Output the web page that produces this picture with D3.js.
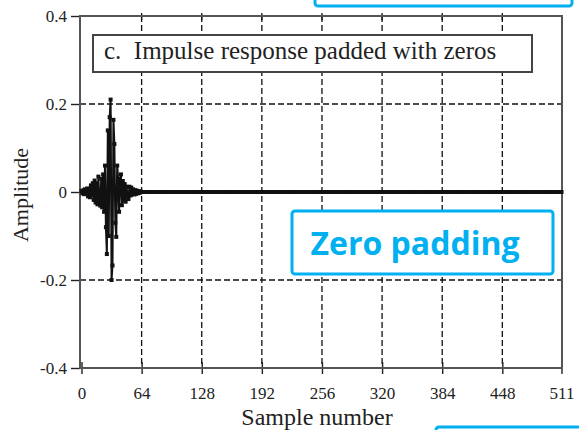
<!DOCTYPE html>
<html>
<head>
<meta charset="utf-8">
<script src="https://cdn.jsdelivr.net/npm/d3@7/dist/d3.min.js"></script>
<style>
  html, body { margin: 0; padding: 0; background: #fff; }
  svg { display: block; }
</style>
</head>
<body>
<svg id="chart" width="579" height="430"></svg>
<script>
// Windowed filter kernel (first 64 samples), followed by zero padding to 512 points
const kernel = [
  0.002, -0.003, 0.004, -0.005, 0.006, -0.004, 0.008, -0.010,
  0.007, -0.012, 0.015, -0.008, 0.020, -0.018, 0.026, -0.024,
  0.020, -0.028, 0.035, -0.022, -0.031, 0.030, -0.035, 0.040,
  -0.045, 0.060, -0.080, -0.141, 0.140, -0.100, 0.170, 0.210,
  -0.200, -0.167, 0.164, 0.109, -0.070, -0.102, 0.060, 0.030,
  -0.045, 0.020, 0.040, -0.030, 0.025, -0.020, 0.018, -0.022,
  0.012, -0.010, -0.016, 0.012, -0.008, 0.010, -0.006, 0.006,
  -0.005, 0.004, -0.004, 0.003, -0.003, 0.002, -0.002, 0.001
];
const totalLength = 512;
const padding = new Array(totalLength - kernel.length).fill(0);
const samples = kernel.concat(padding);

const xTicks = [0, 64, 128, 192, 256, 320, 384, 448, 511];
const yTicks = [-0.4, -0.2, 0, 0.2, 0.4];
const yTickLabels = ["-0.4", "-0.2", "0", "0.2", "0.4"];
const xGrid = [64, 128, 192, 256, 320, 384, 448];
const yGrid = [-0.2, 0, 0.2];

const titleText = "c.  Impulse response padded with zeros";
const xLabel = "Sample number";
const yLabel = "Amplitude";
const noteText = "Zero padding";

(function draw() {
  const svg = d3.select("#chart");
  const pl = 80, pr = 562, pt = 16, pb = 368;
  const x = d3.scaleLinear().domain([0, 511]).range([81.5, 561.5]);
  const y = d3.scaleLinear().domain([-0.4, 0.4]).range([pb, pt]);

  const serif = "'Liberation Serif', 'DejaVu Serif', serif";
  const cyan = "#00b0f0";
  const ink = "#222";

  // dashed grid
  const grid = svg.append("g").attr("stroke", "#111").attr("stroke-width", 1.3)
    .attr("stroke-dasharray", "6,3");
  grid.selectAll("line.v").data(xGrid).join("line").attr("class", "v")
    .attr("x1", d => x(d)).attr("x2", d => x(d))
    .attr("y1", pt).attr("y2", pb);
  grid.selectAll("line.h").data(yGrid).join("line").attr("class", "h")
    .attr("x1", pl).attr("x2", pr)
    .attr("y1", d => y(d)).attr("y2", d => y(d));

  // small ticks along the top border
  svg.append("g").selectAll("line").data(xGrid).join("line")
    .attr("x1", d => x(d)).attr("x2", d => x(d))
    .attr("y1", pt - 3).attr("y2", pt + 4)
    .attr("stroke", "#111").attr("stroke-width", 1.3);

  // title box
  const tb = svg.append("g");
  tb.append("rect").attr("x", 93).attr("y", 35).attr("width", 439).attr("height", 37)
    .attr("fill", "#fff").attr("stroke", "#444").attr("stroke-width", 2);
  tb.append("text").attr("x", 104).attr("y", 59)
    .attr("font-family", serif).attr("font-size", 25).attr("fill", ink)
    .style("white-space", "pre").text(titleText);

  // bottom axis
  const xAxis = svg.append("g").attr("transform", `translate(0,${pb})`)
    .call(d3.axisBottom(x).tickValues(xTicks).tickSize(6).tickSizeOuter(0));
  xAxis.select(".domain").remove();
  xAxis.selectAll(".tick line").attr("y1", -6).attr("y2", 6)
    .attr("stroke", ink).attr("stroke-width", 1.4);
  xAxis.selectAll(".tick text").attr("y", 19)
    .attr("font-family", serif).attr("font-size", 17).attr("fill", ink);

  // left axis
  const yAxis = svg.append("g").attr("transform", `translate(${pl},0)`)
    .call(d3.axisLeft(y).tickValues(yTicks).tickSize(9).tickSizeOuter(0)
      .tickFormat((d, i) => yTickLabels[i]));
  yAxis.select(".domain").remove();
  yAxis.selectAll(".tick line").attr("stroke", ink).attr("stroke-width", 1.4);
  yAxis.selectAll(".tick text").attr("x", -13)
    .attr("font-family", serif).attr("font-size", 17).attr("fill", ink);

  // frame
  svg.append("rect").attr("x", pl).attr("y", pt)
    .attr("width", pr - pl).attr("height", pb - pt)
    .attr("fill", "none").attr("stroke", "#555").attr("stroke-width", 2);

  // signal: connected samples with square markers
  const line = d3.line().x((d, i) => x(i)).y(d => y(d));
  svg.append("path").datum(samples).attr("d", line)
    .attr("fill", "none").attr("stroke", "#111").attr("stroke-width", 2);
  const m = 4;
  svg.append("g").selectAll("rect").data(samples).join("rect")
    .attr("x", (d, i) => x(i) - m / 2).attr("y", d => y(d) - m / 2)
    .attr("width", m).attr("height", m).attr("fill", "#111");

  // axis titles
  svg.append("text").attr("x", 317).attr("y", 425).attr("text-anchor", "middle")
    .attr("font-family", serif).attr("font-size", 24).attr("fill", ink).text(xLabel);
  svg.append("text").attr("transform", "translate(28,195) rotate(-90)")
    .attr("text-anchor", "middle")
    .attr("font-family", serif).attr("font-size", 22).attr("fill", ink).text(yLabel);

  // callout box
  svg.append("rect").attr("x", 292).attr("y", 211).attr("width", 261).attr("height", 63)
    .attr("rx", 3).attr("fill", "#fff").attr("stroke", cyan).attr("stroke-width", 3);
  svg.append("text").attr("x", 415).attr("y", 255).attr("text-anchor", "middle")
    .attr("font-family", "'Open Sans', Lato, sans-serif").attr("font-weight", "bold")
    .attr("font-size", 32).attr("fill", cyan).text(noteText);

  // partial frames at the page edges
  svg.append("rect").attr("x", 315).attr("y", -40).attr("width", 257).attr("height", 46)
    .attr("rx", 3).attr("fill", "none").attr("stroke", cyan).attr("stroke-width", 3);
  svg.append("rect").attr("x", 436).attr("y", 427).attr("width", 180).attr("height", 40)
    .attr("rx", 3).attr("fill", "none").attr("stroke", cyan).attr("stroke-width", 3);
})();
</script>
</body>
</html>
